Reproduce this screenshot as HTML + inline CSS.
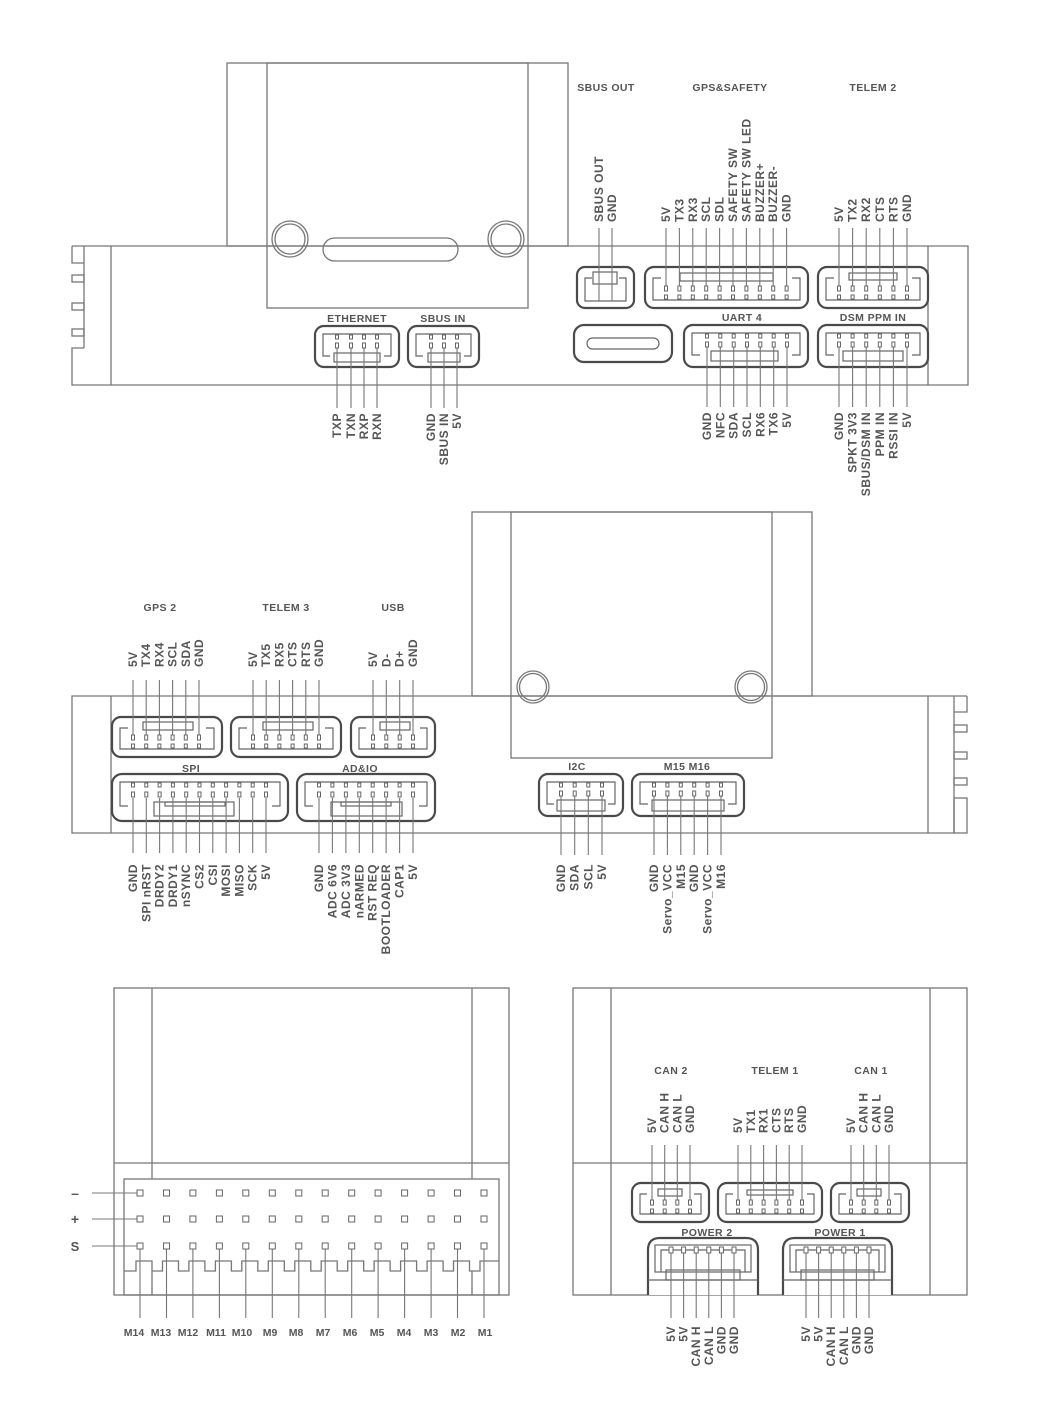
<!DOCTYPE html>
<html><head><meta charset="utf-8"><style>
html,body{margin:0;padding:0;background:#fff;}
svg{display:block;}
text{font-family:"Liberation Sans",sans-serif;font-weight:bold;fill:#555;}
.h{font-size:10.5px;letter-spacing:0.4px;text-anchor:middle;}
.u{font-size:12px;letter-spacing:0.5px;}
.b{fill:none;stroke:#777;stroke-width:1.3;}
.c{fill:#fff;stroke:#4a4a4a;stroke-width:2.2;}
.i{fill:none;stroke:#666;stroke-width:1.2;}
.l{stroke:#777;stroke-width:1.1;}
.p{fill:#fff;stroke:#666;stroke-width:1;}
</style></head><body>
<svg width="1039" height="1407" viewBox="0 0 1039 1407" xmlns="http://www.w3.org/2000/svg">

<!-- ================= PANEL 1 ================= -->
<path class="b" d="M84 246 H968 V385 H72 V348 H84 M84 246 V348 M72 246 V263 H84 M72 246 H84"/>
<rect class="b" x="72" y="275" width="12" height="7"/>
<rect class="b" x="72" y="303" width="12" height="7"/>
<rect class="b" x="72" y="329" width="12" height="7"/>
<line class="b" x1="111" y1="246" x2="111" y2="385"/>
<line class="b" x1="928" y1="246" x2="928" y2="385"/>
<rect class="b" x="227" y="63" width="341" height="183" fill="#fff"/>
<rect class="b" x="267" y="63" width="261" height="245" fill="#fff"/>
<circle class="b" cx="290" cy="239" r="18"/><circle class="b" cx="290" cy="239" r="15"/>
<circle class="b" cx="506" cy="239" r="18"/><circle class="b" cx="506" cy="239" r="15"/>
<rect class="b" x="323" y="238" width="135" height="23" rx="11.5"/>

<text class="h" x="606" y="91">SBUS OUT</text>
<text class="h" x="730" y="91">GPS&amp;SAFETY</text>
<text class="h" x="873" y="91">TELEM 2</text>
<text class="h" x="357" y="322">ETHERNET</text>
<text class="h" x="443" y="322">SBUS IN</text>
<text class="h" x="742" y="321">UART 4</text>
<text class="h" x="873" y="321">DSM PPM IN</text>

<!-- USB-C -->
<rect class="c" x="574" y="325" width="98" height="37" rx="10"/>
<rect class="i" x="587" y="338" width="72" height="11" rx="5.5" stroke-width="2.5"/>
<line x1="600" y1="343.5" x2="646" y2="343.5" stroke="#fff" stroke-width="3"/>

<!-- SBUS OUT connector (top) -->
<rect class="c" x="577" y="267" width="57" height="41" rx="8"/>
<polyline class="i" points="592,278 585,278 585,301 626,301 626,278 619,278"/>
<rect class="i" x="593" y="272" width="24" height="12"/>
<line class="l" x1="599" y1="228" x2="599" y2="301"/><line class="l" x1="612" y1="228" x2="612" y2="301"/>

<!-- GPS&SAFETY (top) -->
<rect class="c" x="645" y="267" width="163" height="41" rx="9"/>
<polyline class="i" points="661,278 653,278 653,300 800,300 800,278 792,278"/>
<rect class="i" x="680" y="273" width="93" height="8"/>
<g class="l">
<line x1="666" y1="228" x2="666" y2="288"/><line x1="679.4" y1="228" x2="679.4" y2="288"/><line x1="692.8" y1="228" x2="692.8" y2="288"/><line x1="706.2" y1="228" x2="706.2" y2="288"/><line x1="719.6" y1="228" x2="719.6" y2="288"/><line x1="733" y1="228" x2="733" y2="288"/><line x1="746.4" y1="228" x2="746.4" y2="288"/><line x1="759.8" y1="228" x2="759.8" y2="288"/><line x1="773.2" y1="228" x2="773.2" y2="288"/><line x1="786.6" y1="228" x2="786.6" y2="288"/>
</g>
<g class="p">
<rect x="664.5" y="286" width="3" height="5"/><rect x="677.9" y="286" width="3" height="5"/><rect x="691.3" y="286" width="3" height="5"/><rect x="704.7" y="286" width="3" height="5"/><rect x="718.1" y="286" width="3" height="5"/><rect x="731.5" y="286" width="3" height="5"/><rect x="744.9" y="286" width="3" height="5"/><rect x="758.3" y="286" width="3" height="5"/><rect x="771.7" y="286" width="3" height="5"/><rect x="785.1" y="286" width="3" height="5"/>
<rect x="664.5" y="295" width="3" height="4"/><rect x="677.9" y="295" width="3" height="4"/><rect x="691.3" y="295" width="3" height="4"/><rect x="704.7" y="295" width="3" height="4"/><rect x="718.1" y="295" width="3" height="4"/><rect x="731.5" y="295" width="3" height="4"/><rect x="744.9" y="295" width="3" height="4"/><rect x="758.3" y="295" width="3" height="4"/><rect x="771.7" y="295" width="3" height="4"/><rect x="785.1" y="295" width="3" height="4"/>
</g>

<!-- TELEM 2 (top) -->
<rect class="c" x="818" y="267" width="110" height="41" rx="9"/>
<polyline class="i" points="834,278 826,278 826,300 920,300 920,278 912,278"/>
<rect class="i" x="849" y="273" width="48" height="7"/>
<g class="l">
<line x1="839" y1="228" x2="839" y2="288"/><line x1="852.6" y1="228" x2="852.6" y2="288"/><line x1="866.2" y1="228" x2="866.2" y2="288"/><line x1="879.8" y1="228" x2="879.8" y2="288"/><line x1="893.4" y1="228" x2="893.4" y2="288"/><line x1="907" y1="228" x2="907" y2="288"/>
</g>
<g class="p">
<rect x="837.5" y="286" width="3" height="5"/><rect x="851.1" y="286" width="3" height="5"/><rect x="864.7" y="286" width="3" height="5"/><rect x="878.3" y="286" width="3" height="5"/><rect x="891.9" y="286" width="3" height="5"/><rect x="905.5" y="286" width="3" height="5"/>
<rect x="837.5" y="295" width="3" height="4"/><rect x="851.1" y="295" width="3" height="4"/><rect x="864.7" y="295" width="3" height="4"/><rect x="878.3" y="295" width="3" height="4"/><rect x="891.9" y="295" width="3" height="4"/><rect x="905.5" y="295" width="3" height="4"/>
</g>

<!-- ETHERNET (bottom) -->
<rect class="c" x="315" y="326" width="84" height="41" rx="9"/>
<polyline class="i" points="330,356 323,356 323,334 391,334 391,356 384,356"/>
<rect class="i" x="334" y="353" width="46" height="9"/>
<g class="l"><line x1="337" y1="348" x2="337" y2="408"/><line x1="351" y1="348" x2="351" y2="408"/><line x1="364" y1="348" x2="364" y2="408"/><line x1="377" y1="348" x2="377" y2="408"/></g>
<g class="p"><rect x="335.5" y="335" width="3" height="4"/><rect x="349.5" y="335" width="3" height="4"/><rect x="362.5" y="335" width="3" height="4"/><rect x="375.5" y="335" width="3" height="4"/>
<rect x="335.5" y="343" width="3" height="5"/><rect x="349.5" y="343" width="3" height="5"/><rect x="362.5" y="343" width="3" height="5"/><rect x="375.5" y="343" width="3" height="5"/></g>

<!-- SBUS IN (bottom) -->
<rect class="c" x="408" y="326" width="71" height="41" rx="9"/>
<polyline class="i" points="423,356 416,356 416,334 471,334 471,356 464,356"/>
<rect class="i" x="428" y="353" width="32" height="9"/>
<g class="l"><line x1="431" y1="348" x2="431" y2="408"/><line x1="444" y1="348" x2="444" y2="408"/><line x1="457" y1="348" x2="457" y2="408"/></g>
<g class="p"><rect x="429.5" y="335" width="3" height="4"/><rect x="442.5" y="335" width="3" height="4"/><rect x="455.5" y="335" width="3" height="4"/>
<rect x="429.5" y="343" width="3" height="5"/><rect x="442.5" y="343" width="3" height="5"/><rect x="455.5" y="343" width="3" height="5"/></g>

<!-- UART 4 (bottom) -->
<rect class="c" x="684" y="325" width="124" height="42" rx="9"/>
<polyline class="i" points="700,355 692,355 692,333 800,333 800,355 792,355"/>
<rect class="i" x="711" y="351" width="67" height="10"/>
<g class="l"><line x1="707" y1="347" x2="707" y2="407"/><line x1="720.3" y1="347" x2="720.3" y2="407"/><line x1="733.7" y1="347" x2="733.7" y2="407"/><line x1="747" y1="347" x2="747" y2="407"/><line x1="760.3" y1="347" x2="760.3" y2="407"/><line x1="773.7" y1="347" x2="773.7" y2="407"/><line x1="787" y1="347" x2="787" y2="407"/></g>
<g class="p"><rect x="705.5" y="334" width="3" height="4"/><rect x="718.8" y="334" width="3" height="4"/><rect x="732.2" y="334" width="3" height="4"/><rect x="745.5" y="334" width="3" height="4"/><rect x="758.8" y="334" width="3" height="4"/><rect x="772.2" y="334" width="3" height="4"/><rect x="785.5" y="334" width="3" height="4"/>
<rect x="705.5" y="342" width="3" height="5"/><rect x="718.8" y="342" width="3" height="5"/><rect x="732.2" y="342" width="3" height="5"/><rect x="745.5" y="342" width="3" height="5"/><rect x="758.8" y="342" width="3" height="5"/><rect x="772.2" y="342" width="3" height="5"/><rect x="785.5" y="342" width="3" height="5"/></g>

<!-- DSM PPM IN (bottom) -->
<rect class="c" x="818" y="325" width="110" height="42" rx="9"/>
<polyline class="i" points="834,355 826,355 826,333 920,333 920,355 912,355"/>
<rect class="i" x="843" y="351" width="60" height="10"/>
<g class="l"><line x1="839" y1="347" x2="839" y2="407"/><line x1="852.6" y1="347" x2="852.6" y2="407"/><line x1="866.2" y1="347" x2="866.2" y2="407"/><line x1="879.8" y1="347" x2="879.8" y2="407"/><line x1="893.4" y1="347" x2="893.4" y2="407"/><line x1="907" y1="347" x2="907" y2="407"/></g>
<g class="p"><rect x="837.5" y="334" width="3" height="4"/><rect x="851.1" y="334" width="3" height="4"/><rect x="864.7" y="334" width="3" height="4"/><rect x="878.3" y="334" width="3" height="4"/><rect x="891.9" y="334" width="3" height="4"/><rect x="905.5" y="334" width="3" height="4"/>
<rect x="837.5" y="342" width="3" height="5"/><rect x="851.1" y="342" width="3" height="5"/><rect x="864.7" y="342" width="3" height="5"/><rect x="878.3" y="342" width="3" height="5"/><rect x="891.9" y="342" width="3" height="5"/><rect x="905.5" y="342" width="3" height="5"/></g>

<!-- Panel 1 top labels (anchor start, read upward) -->
<g class="u">
<text transform="translate(603,222) rotate(-90)">SBUS OUT</text>
<text transform="translate(616,222) rotate(-90)">GND</text>
<text transform="translate(670,222) rotate(-90)">5V</text>
<text transform="translate(683.4,222) rotate(-90)">TX3</text>
<text transform="translate(696.8,222) rotate(-90)">RX3</text>
<text transform="translate(710.2,222) rotate(-90)">SCL</text>
<text transform="translate(723.6,222) rotate(-90)">SDL</text>
<text transform="translate(737,222) rotate(-90)">SAFETY  SW</text>
<text transform="translate(750.4,222) rotate(-90)">SAFETY SW LED</text>
<text transform="translate(763.8,222) rotate(-90)">BUZZER+</text>
<text transform="translate(777.2,222) rotate(-90)">BUZZER-</text>
<text transform="translate(790.6,222) rotate(-90)">GND</text>
<text transform="translate(843,222) rotate(-90)">5V</text>
<text transform="translate(856.6,222) rotate(-90)">TX2</text>
<text transform="translate(870.2,222) rotate(-90)">RX2</text>
<text transform="translate(883.8,222) rotate(-90)">CTS</text>
<text transform="translate(897.4,222) rotate(-90)">RTS</text>
<text transform="translate(911,222) rotate(-90)">GND</text>
</g>
<!-- Panel 1 bottom labels -->
<g class="u" text-anchor="end">
<text transform="translate(341,413) rotate(-90)">TXP</text>
<text transform="translate(355,413) rotate(-90)">TXN</text>
<text transform="translate(368,413) rotate(-90)">RXP</text>
<text transform="translate(381,413) rotate(-90)">RXN</text>
<text transform="translate(435,413) rotate(-90)">GND</text>
<text transform="translate(448,413) rotate(-90)">SBUS IN</text>
<text transform="translate(461,413) rotate(-90)">5V</text>
<text transform="translate(711,412) rotate(-90)">GND</text>
<text transform="translate(724.3,412) rotate(-90)">NFC</text>
<text transform="translate(737.7,412) rotate(-90)">SDA</text>
<text transform="translate(751,412) rotate(-90)">SCL</text>
<text transform="translate(764.3,412) rotate(-90)">RX6</text>
<text transform="translate(777.7,412) rotate(-90)">TX6</text>
<text transform="translate(791,412) rotate(-90)">5V</text>
<text transform="translate(843,412) rotate(-90)">GND</text>
<text transform="translate(856.6,412) rotate(-90)">SPKT 3V3</text>
<text transform="translate(870.2,412) rotate(-90)">SBUS/DSM IN</text>
<text transform="translate(883.8,412) rotate(-90)">PPM IN</text>
<text transform="translate(897.4,412) rotate(-90)">RSSI IN</text>
<text transform="translate(911,412) rotate(-90)">5V</text>
</g>

<!-- ================= PANEL 2 ================= -->
<path class="b" d="M954 696 H72 V833 H954 M954 696 V833 M967 696 V712 H954 M967 696 H954"/>
<rect class="b" x="954" y="725" width="13" height="7"/>
<rect class="b" x="954" y="752" width="13" height="7"/>
<rect class="b" x="954" y="778" width="13" height="7"/>
<rect class="b" x="954" y="798" width="13" height="35"/>
<line class="b" x1="111" y1="696" x2="111" y2="833"/>
<line class="b" x1="928" y1="696" x2="928" y2="833"/>
<rect class="b" x="472" y="512" width="340" height="184" fill="#fff"/>
<rect class="b" x="511" y="512" width="261" height="246" fill="#fff"/>
<circle class="b" cx="533" cy="687" r="16"/><circle class="b" cx="533" cy="687" r="13.5"/>
<circle class="b" cx="751" cy="687" r="16"/><circle class="b" cx="751" cy="687" r="13.5"/>

<text class="h" x="160" y="611">GPS 2</text>
<text class="h" x="286" y="611">TELEM 3</text>
<text class="h" x="393" y="611">USB</text>
<text class="h" x="191" y="772">SPI</text>
<text class="h" x="360" y="772">AD&amp;IO</text>
<text class="h" x="577" y="770">I2C</text>
<text class="h" x="687" y="770">M15 M16</text>

<!-- GPS2 (top) -->
<rect class="c" x="112" y="717" width="110" height="40" rx="9"/>
<polyline class="i" points="128,728 120,728 120,749 214,749 214,728 206,728"/>
<rect class="i" x="143" y="722" width="50" height="8"/>
<g class="l"><line x1="133" y1="680" x2="133" y2="737"/><line x1="146.2" y1="680" x2="146.2" y2="737"/><line x1="159.4" y1="680" x2="159.4" y2="737"/><line x1="172.6" y1="680" x2="172.6" y2="737"/><line x1="185.8" y1="680" x2="185.8" y2="737"/><line x1="199" y1="680" x2="199" y2="737"/></g>
<g class="p"><rect x="131.5" y="735" width="3" height="5"/><rect x="144.7" y="735" width="3" height="5"/><rect x="157.9" y="735" width="3" height="5"/><rect x="171.1" y="735" width="3" height="5"/><rect x="184.3" y="735" width="3" height="5"/><rect x="197.5" y="735" width="3" height="5"/>
<rect x="131.5" y="744" width="3" height="4"/><rect x="144.7" y="744" width="3" height="4"/><rect x="157.9" y="744" width="3" height="4"/><rect x="171.1" y="744" width="3" height="4"/><rect x="184.3" y="744" width="3" height="4"/><rect x="197.5" y="744" width="3" height="4"/></g>

<!-- TELEM3 (top) -->
<rect class="c" x="231" y="717" width="110" height="40" rx="9"/>
<polyline class="i" points="247,728 239,728 239,749 333,749 333,728 325,728"/>
<rect class="i" x="263" y="722" width="50" height="8"/>
<g class="l"><line x1="253" y1="680" x2="253" y2="737"/><line x1="266.2" y1="680" x2="266.2" y2="737"/><line x1="279.4" y1="680" x2="279.4" y2="737"/><line x1="292.6" y1="680" x2="292.6" y2="737"/><line x1="305.8" y1="680" x2="305.8" y2="737"/><line x1="319" y1="680" x2="319" y2="737"/></g>
<g class="p"><rect x="251.5" y="735" width="3" height="5"/><rect x="264.7" y="735" width="3" height="5"/><rect x="277.9" y="735" width="3" height="5"/><rect x="291.1" y="735" width="3" height="5"/><rect x="304.3" y="735" width="3" height="5"/><rect x="317.5" y="735" width="3" height="5"/>
<rect x="251.5" y="744" width="3" height="4"/><rect x="264.7" y="744" width="3" height="4"/><rect x="277.9" y="744" width="3" height="4"/><rect x="291.1" y="744" width="3" height="4"/><rect x="304.3" y="744" width="3" height="4"/><rect x="317.5" y="744" width="3" height="4"/></g>

<!-- USB (top) -->
<rect class="c" x="351" y="717" width="84" height="40" rx="9"/>
<polyline class="i" points="366,728 359,728 359,749 427,749 427,728 420,728"/>
<rect class="i" x="380" y="722" width="30" height="8"/>
<g class="l"><line x1="373" y1="680" x2="373" y2="737"/><line x1="386.3" y1="680" x2="386.3" y2="737"/><line x1="399.7" y1="680" x2="399.7" y2="737"/><line x1="413" y1="680" x2="413" y2="737"/></g>
<g class="p"><rect x="371.5" y="735" width="3" height="5"/><rect x="384.8" y="735" width="3" height="5"/><rect x="398.2" y="735" width="3" height="5"/><rect x="411.5" y="735" width="3" height="5"/>
<rect x="371.5" y="744" width="3" height="4"/><rect x="384.8" y="744" width="3" height="4"/><rect x="398.2" y="744" width="3" height="4"/><rect x="411.5" y="744" width="3" height="4"/></g>

<!-- SPI (bottom) -->
<rect class="c" x="112" y="774" width="176" height="47" rx="10"/>
<polyline class="i" points="128,806 120,806 120,782 280,782 280,806 272,806"/>
<rect class="i" x="154" y="802" width="80" height="14"/>
<rect class="i" x="165" y="802" width="60" height="4"/>
<g class="l"><line x1="133" y1="798" x2="133" y2="853"/><line x1="146.3" y1="798" x2="146.3" y2="853"/><line x1="159.6" y1="798" x2="159.6" y2="853"/><line x1="172.9" y1="798" x2="172.9" y2="853"/><line x1="186.2" y1="798" x2="186.2" y2="853"/><line x1="199.5" y1="798" x2="199.5" y2="853"/><line x1="212.8" y1="798" x2="212.8" y2="853"/><line x1="226.1" y1="798" x2="226.1" y2="853"/><line x1="239.4" y1="798" x2="239.4" y2="853"/><line x1="252.7" y1="798" x2="252.7" y2="853"/><line x1="266" y1="798" x2="266" y2="853"/></g>
<g class="p"><rect x="131.5" y="783" width="3" height="4"/><rect x="144.8" y="783" width="3" height="4"/><rect x="158.1" y="783" width="3" height="4"/><rect x="171.4" y="783" width="3" height="4"/><rect x="184.7" y="783" width="3" height="4"/><rect x="198" y="783" width="3" height="4"/><rect x="211.3" y="783" width="3" height="4"/><rect x="224.6" y="783" width="3" height="4"/><rect x="237.9" y="783" width="3" height="4"/><rect x="251.2" y="783" width="3" height="4"/><rect x="264.5" y="783" width="3" height="4"/>
<rect x="131.5" y="792" width="3" height="5"/><rect x="144.8" y="792" width="3" height="5"/><rect x="158.1" y="792" width="3" height="5"/><rect x="171.4" y="792" width="3" height="5"/><rect x="184.7" y="792" width="3" height="5"/><rect x="198" y="792" width="3" height="5"/><rect x="211.3" y="792" width="3" height="5"/><rect x="224.6" y="792" width="3" height="5"/><rect x="237.9" y="792" width="3" height="5"/><rect x="251.2" y="792" width="3" height="5"/><rect x="264.5" y="792" width="3" height="5"/></g>

<!-- AD&IO (bottom) -->
<rect class="c" x="297" y="774" width="138" height="47" rx="10"/>
<polyline class="i" points="313,806 305,806 305,782 427,782 427,806 419,806"/>
<rect class="i" x="331" y="802" width="71" height="14"/>
<rect class="i" x="341" y="802" width="50" height="4"/>
<g class="l"><line x1="319" y1="798" x2="319" y2="853"/><line x1="332.4" y1="798" x2="332.4" y2="853"/><line x1="345.9" y1="798" x2="345.9" y2="853"/><line x1="359.3" y1="798" x2="359.3" y2="853"/><line x1="372.7" y1="798" x2="372.7" y2="853"/><line x1="386.1" y1="798" x2="386.1" y2="853"/><line x1="399.6" y1="798" x2="399.6" y2="853"/><line x1="413" y1="798" x2="413" y2="853"/></g>
<g class="p"><rect x="317.5" y="783" width="3" height="4"/><rect x="330.9" y="783" width="3" height="4"/><rect x="344.4" y="783" width="3" height="4"/><rect x="357.8" y="783" width="3" height="4"/><rect x="371.2" y="783" width="3" height="4"/><rect x="384.6" y="783" width="3" height="4"/><rect x="398.1" y="783" width="3" height="4"/><rect x="411.5" y="783" width="3" height="4"/>
<rect x="317.5" y="792" width="3" height="5"/><rect x="330.9" y="792" width="3" height="5"/><rect x="344.4" y="792" width="3" height="5"/><rect x="357.8" y="792" width="3" height="5"/><rect x="371.2" y="792" width="3" height="5"/><rect x="384.6" y="792" width="3" height="5"/><rect x="398.1" y="792" width="3" height="5"/><rect x="411.5" y="792" width="3" height="5"/></g>

<!-- I2C (bottom) -->
<rect class="c" x="539" y="774" width="84" height="42" rx="9"/>
<polyline class="i" points="554,804 547,804 547,782 615,782 615,804 608,804"/>
<rect class="i" x="557" y="800" width="48" height="11"/>
<g class="l"><line x1="561" y1="796" x2="561" y2="855"/><line x1="574.7" y1="796" x2="574.7" y2="855"/><line x1="588.3" y1="796" x2="588.3" y2="855"/><line x1="602" y1="796" x2="602" y2="855"/></g>
<g class="p"><rect x="559.5" y="783" width="3" height="4"/><rect x="573.2" y="783" width="3" height="4"/><rect x="586.8" y="783" width="3" height="4"/><rect x="600.5" y="783" width="3" height="4"/>
<rect x="559.5" y="791" width="3" height="5"/><rect x="573.2" y="791" width="3" height="5"/><rect x="586.8" y="791" width="3" height="5"/><rect x="600.5" y="791" width="3" height="5"/></g>

<!-- M15 M16 (bottom) -->
<rect class="c" x="632" y="774" width="112" height="42" rx="9"/>
<polyline class="i" points="648,804 640,804 640,782 736,782 736,804 728,804"/>
<rect class="i" x="652" y="800" width="72" height="11"/>
<g class="l"><line x1="654" y1="796" x2="654" y2="855"/><line x1="667.4" y1="796" x2="667.4" y2="855"/><line x1="680.8" y1="796" x2="680.8" y2="855"/><line x1="694.2" y1="796" x2="694.2" y2="855"/><line x1="707.6" y1="796" x2="707.6" y2="855"/><line x1="721" y1="796" x2="721" y2="855"/></g>
<g class="p"><rect x="652.5" y="783" width="3" height="4"/><rect x="665.9" y="783" width="3" height="4"/><rect x="679.3" y="783" width="3" height="4"/><rect x="692.7" y="783" width="3" height="4"/><rect x="706.1" y="783" width="3" height="4"/><rect x="719.5" y="783" width="3" height="4"/>
<rect x="652.5" y="791" width="3" height="5"/><rect x="665.9" y="791" width="3" height="5"/><rect x="679.3" y="791" width="3" height="5"/><rect x="692.7" y="791" width="3" height="5"/><rect x="706.1" y="791" width="3" height="5"/><rect x="719.5" y="791" width="3" height="5"/></g>

<!-- Panel 2 top labels -->
<g class="u">
<text transform="translate(137,667) rotate(-90)">5V</text>
<text transform="translate(150.2,667) rotate(-90)">TX4</text>
<text transform="translate(163.4,667) rotate(-90)">RX4</text>
<text transform="translate(176.6,667) rotate(-90)">SCL</text>
<text transform="translate(189.8,667) rotate(-90)">SDA</text>
<text transform="translate(203,667) rotate(-90)">GND</text>
<text transform="translate(257,667) rotate(-90)">5V</text>
<text transform="translate(270.2,667) rotate(-90)">TX5</text>
<text transform="translate(283.4,667) rotate(-90)">RX5</text>
<text transform="translate(296.6,667) rotate(-90)">CTS</text>
<text transform="translate(309.8,667) rotate(-90)">RTS</text>
<text transform="translate(323,667) rotate(-90)">GND</text>
<text transform="translate(377,667) rotate(-90)">5V</text>
<text transform="translate(390.3,667) rotate(-90)">D-</text>
<text transform="translate(403.7,667) rotate(-90)">D+</text>
<text transform="translate(417,667) rotate(-90)">GND</text>
</g>
<!-- Panel 2 bottom labels -->
<g class="u" text-anchor="end">
<text transform="translate(137,864) rotate(-90)">GND</text>
<text transform="translate(150.3,864) rotate(-90)">SPI nRST</text>
<text transform="translate(163.6,864) rotate(-90)">DRDY2</text>
<text transform="translate(176.9,864) rotate(-90)">DRDY1</text>
<text transform="translate(190.2,864) rotate(-90)">nSYNC</text>
<text transform="translate(203.5,864) rotate(-90)">CS2</text>
<text transform="translate(216.8,864) rotate(-90)">CSI</text>
<text transform="translate(230.1,864) rotate(-90)">MOSI</text>
<text transform="translate(243.4,864) rotate(-90)">MISO</text>
<text transform="translate(256.7,864) rotate(-90)">SCK</text>
<text transform="translate(270,864) rotate(-90)">5V</text>
<text transform="translate(323,864) rotate(-90)">GND</text>
<text transform="translate(336.4,864) rotate(-90)">ADC 6V6</text>
<text transform="translate(349.9,864) rotate(-90)">ADC 3V3</text>
<text transform="translate(363.3,864) rotate(-90)">nARMED</text>
<text transform="translate(376.7,864) rotate(-90)">RST REQ</text>
<text transform="translate(390.1,864) rotate(-90)">BOOTLOADER</text>
<text transform="translate(403.6,864) rotate(-90)">CAP1</text>
<text transform="translate(417,864) rotate(-90)">5V</text>
<text transform="translate(565,864) rotate(-90)">GND</text>
<text transform="translate(578.7,864) rotate(-90)">SDA</text>
<text transform="translate(592.3,864) rotate(-90)">SCL</text>
<text transform="translate(606,864) rotate(-90)">5V</text>
<text transform="translate(658,864) rotate(-90)">GND</text>
<text transform="translate(671.4,864) rotate(-90)">Servo_VCC</text>
<text transform="translate(684.8,864) rotate(-90)">M15</text>
<text transform="translate(698.2,864) rotate(-90)">GND</text>
<text transform="translate(711.6,864) rotate(-90)">Servo_VCC</text>
<text transform="translate(725,864) rotate(-90)">M16</text>
</g>

<!-- ================= PANEL 3 ================= -->
<rect class="b" x="114" y="988" width="395" height="307"/>
<line class="b" x1="114" y1="1163" x2="509" y2="1163"/>
<line class="b" x1="152" y1="988" x2="152" y2="1179"/>
<line class="b" x1="472" y1="988" x2="472" y2="1179"/>
<line class="b" x1="152" y1="1271" x2="152" y2="1295"/>
<line class="b" x1="472" y1="1271" x2="472" y2="1295"/>
<rect class="b" x="124" y="1179" width="375" height="116" stroke-width="1.6"/>
<path class="b" d="M124 1271 H136 V1261 H152 V1271 H162.5 V1261 H178.5 V1271 H188.9 V1261 H204.9 V1271 H215.4 V1261 H231.4 V1271 H241.8 V1261 H257.8 V1271 H268.3 V1261 H284.3 V1271 H294.8 V1261 H310.8 V1271 H321.2 V1261 H337.2 V1271 H347.7 V1261 H363.7 V1271 H374.1 V1261 H390.1 V1271 H400.6 V1261 H416.6 V1271 H427.1 V1261 H443.1 V1271 H453.5 V1261 H469.5 V1271 H480 V1261 H499"/>
<g class="l">
<line x1="92" y1="1193" x2="137" y2="1193"/><line x1="92" y1="1219" x2="137" y2="1219"/><line x1="92" y1="1246" x2="137" y2="1246"/>
<line x1="140" y1="1249" x2="140" y2="1318"/><line x1="166.5" y1="1249" x2="166.5" y2="1318"/><line x1="192.9" y1="1249" x2="192.9" y2="1318"/><line x1="219.4" y1="1249" x2="219.4" y2="1318"/><line x1="245.8" y1="1249" x2="245.8" y2="1318"/><line x1="272.3" y1="1249" x2="272.3" y2="1318"/><line x1="298.8" y1="1249" x2="298.8" y2="1318"/><line x1="325.2" y1="1249" x2="325.2" y2="1318"/><line x1="351.7" y1="1249" x2="351.7" y2="1318"/><line x1="378.1" y1="1249" x2="378.1" y2="1318"/><line x1="404.6" y1="1249" x2="404.6" y2="1318"/><line x1="431.1" y1="1249" x2="431.1" y2="1318"/><line x1="457.5" y1="1249" x2="457.5" y2="1318"/><line x1="484" y1="1249" x2="484" y2="1318"/>
</g>
<g class="p">
<rect x="137" y="1190" width="6" height="6"/><rect x="163.5" y="1190" width="6" height="6"/><rect x="189.9" y="1190" width="6" height="6"/><rect x="216.4" y="1190" width="6" height="6"/><rect x="242.8" y="1190" width="6" height="6"/><rect x="269.3" y="1190" width="6" height="6"/><rect x="295.8" y="1190" width="6" height="6"/><rect x="322.2" y="1190" width="6" height="6"/><rect x="348.7" y="1190" width="6" height="6"/><rect x="375.1" y="1190" width="6" height="6"/><rect x="401.6" y="1190" width="6" height="6"/><rect x="428.1" y="1190" width="6" height="6"/><rect x="454.5" y="1190" width="6" height="6"/><rect x="481" y="1190" width="6" height="6"/>
<rect x="137" y="1216" width="6" height="6"/><rect x="163.5" y="1216" width="6" height="6"/><rect x="189.9" y="1216" width="6" height="6"/><rect x="216.4" y="1216" width="6" height="6"/><rect x="242.8" y="1216" width="6" height="6"/><rect x="269.3" y="1216" width="6" height="6"/><rect x="295.8" y="1216" width="6" height="6"/><rect x="322.2" y="1216" width="6" height="6"/><rect x="348.7" y="1216" width="6" height="6"/><rect x="375.1" y="1216" width="6" height="6"/><rect x="401.6" y="1216" width="6" height="6"/><rect x="428.1" y="1216" width="6" height="6"/><rect x="454.5" y="1216" width="6" height="6"/><rect x="481" y="1216" width="6" height="6"/>
<rect x="137" y="1243" width="6" height="6"/><rect x="163.5" y="1243" width="6" height="6"/><rect x="189.9" y="1243" width="6" height="6"/><rect x="216.4" y="1243" width="6" height="6"/><rect x="242.8" y="1243" width="6" height="6"/><rect x="269.3" y="1243" width="6" height="6"/><rect x="295.8" y="1243" width="6" height="6"/><rect x="322.2" y="1243" width="6" height="6"/><rect x="348.7" y="1243" width="6" height="6"/><rect x="375.1" y="1243" width="6" height="6"/><rect x="401.6" y="1243" width="6" height="6"/><rect x="428.1" y="1243" width="6" height="6"/><rect x="454.5" y="1243" width="6" height="6"/><rect x="481" y="1243" width="6" height="6"/>
</g>
<text x="75" y="1198" style="font-size:14px;text-anchor:middle">–</text>
<text x="75" y="1224" style="font-size:14px;text-anchor:middle">+</text>
<text x="75" y="1251" style="font-size:13px;text-anchor:middle">S</text>
<g class="h" style="font-size:10.5px;letter-spacing:0">
<text x="134" y="1336">M14</text><text x="161" y="1336">M13</text><text x="188" y="1336">M12</text><text x="216" y="1336">M11</text><text x="242" y="1336">M10</text><text x="270" y="1336">M9</text><text x="296" y="1336">M8</text><text x="323" y="1336">M7</text><text x="350" y="1336">M6</text><text x="377" y="1336">M5</text><text x="404" y="1336">M4</text><text x="431" y="1336">M3</text><text x="458" y="1336">M2</text><text x="485" y="1336">M1</text>
</g>

<!-- ================= PANEL 4 ================= -->
<rect class="b" x="573" y="988" width="394" height="307"/>
<line class="b" x1="573" y1="1163" x2="967" y2="1163"/>
<line class="b" x1="611" y1="988" x2="611" y2="1295"/>
<line class="b" x1="930" y1="988" x2="930" y2="1295"/>

<text class="h" x="671" y="1074">CAN 2</text>
<text class="h" x="775" y="1074">TELEM 1</text>
<text class="h" x="871" y="1074">CAN 1</text>
<text class="h" x="707" y="1236">POWER 2</text>
<text class="h" x="840" y="1236">POWER 1</text>

<!-- CAN2 -->
<rect class="c" x="632" y="1183" width="77" height="39" rx="9"/>
<polyline class="i" points="647,1194 640,1194 640,1214 701,1214 701,1194 694,1194"/>
<rect class="i" x="658" y="1189" width="24" height="7"/>
<g class="l"><line x1="652" y1="1145" x2="652" y2="1202"/><line x1="664.7" y1="1145" x2="664.7" y2="1202"/><line x1="677.3" y1="1145" x2="677.3" y2="1202"/><line x1="690" y1="1145" x2="690" y2="1202"/></g>
<g class="p"><rect x="650.5" y="1200" width="3" height="5"/><rect x="663.2" y="1200" width="3" height="5"/><rect x="675.8" y="1200" width="3" height="5"/><rect x="688.5" y="1200" width="3" height="5"/>
<rect x="650.5" y="1209" width="3" height="4"/><rect x="663.2" y="1209" width="3" height="4"/><rect x="675.8" y="1209" width="3" height="4"/><rect x="688.5" y="1209" width="3" height="4"/></g>

<!-- TELEM1 -->
<rect class="c" x="718" y="1183" width="104" height="39" rx="9"/>
<polyline class="i" points="733,1194 726,1194 726,1214 814,1214 814,1194 807,1194"/>
<rect class="i" x="747" y="1190" width="46" height="5"/>
<g class="l"><line x1="738" y1="1145" x2="738" y2="1202"/><line x1="750.8" y1="1145" x2="750.8" y2="1202"/><line x1="763.6" y1="1145" x2="763.6" y2="1202"/><line x1="776.4" y1="1145" x2="776.4" y2="1202"/><line x1="789.2" y1="1145" x2="789.2" y2="1202"/><line x1="802" y1="1145" x2="802" y2="1202"/></g>
<g class="p"><rect x="736.5" y="1200" width="3" height="5"/><rect x="749.3" y="1200" width="3" height="5"/><rect x="762.1" y="1200" width="3" height="5"/><rect x="774.9" y="1200" width="3" height="5"/><rect x="787.7" y="1200" width="3" height="5"/><rect x="800.5" y="1200" width="3" height="5"/>
<rect x="736.5" y="1209" width="3" height="4"/><rect x="749.3" y="1209" width="3" height="4"/><rect x="762.1" y="1209" width="3" height="4"/><rect x="774.9" y="1209" width="3" height="4"/><rect x="787.7" y="1209" width="3" height="4"/><rect x="800.5" y="1209" width="3" height="4"/></g>

<!-- CAN1 -->
<rect class="c" x="831" y="1183" width="78" height="39" rx="9"/>
<polyline class="i" points="846,1194 839,1194 839,1214 901,1214 901,1194 894,1194"/>
<rect class="i" x="857" y="1189" width="24" height="7"/>
<g class="l"><line x1="851" y1="1145" x2="851" y2="1202"/><line x1="863.7" y1="1145" x2="863.7" y2="1202"/><line x1="876.3" y1="1145" x2="876.3" y2="1202"/><line x1="889" y1="1145" x2="889" y2="1202"/></g>
<g class="p"><rect x="849.5" y="1200" width="3" height="5"/><rect x="862.2" y="1200" width="3" height="5"/><rect x="874.8" y="1200" width="3" height="5"/><rect x="887.5" y="1200" width="3" height="5"/>
<rect x="849.5" y="1209" width="3" height="4"/><rect x="862.2" y="1209" width="3" height="4"/><rect x="874.8" y="1209" width="3" height="4"/><rect x="887.5" y="1209" width="3" height="4"/></g>

<!-- POWER 2 -->
<path class="c" d="M648 1295 V1250 Q648 1238 660 1238 H746 Q758 1238 758 1250 V1295"/>
<rect class="i" x="655" y="1245" width="96" height="27"/>
<polyline class="i" points="661,1272 661,1250 745,1250 745,1272"/>
<line class="i" x1="648" y1="1280" x2="758" y2="1280"/>
<rect class="i" x="666" y="1270" width="74" height="10"/>
<g class="l"><line x1="671" y1="1252" x2="671" y2="1318"/><line x1="683.6" y1="1252" x2="683.6" y2="1318"/><line x1="696.2" y1="1252" x2="696.2" y2="1318"/><line x1="708.8" y1="1252" x2="708.8" y2="1318"/><line x1="721.4" y1="1252" x2="721.4" y2="1318"/><line x1="734" y1="1252" x2="734" y2="1318"/></g>
<g class="p"><rect x="669" y="1247" width="4" height="6"/><rect x="681.6" y="1247" width="4" height="6"/><rect x="694.2" y="1247" width="4" height="6"/><rect x="706.8" y="1247" width="4" height="6"/><rect x="719.4" y="1247" width="4" height="6"/><rect x="732" y="1247" width="4" height="6"/></g>

<!-- POWER 1 -->
<path class="c" d="M783 1295 V1250 Q783 1238 795 1238 H880 Q892 1238 892 1250 V1295"/>
<rect class="i" x="790" y="1245" width="95" height="27"/>
<polyline class="i" points="796,1272 796,1250 879,1250 879,1272"/>
<line class="i" x1="783" y1="1280" x2="892" y2="1280"/>
<rect class="i" x="801" y="1270" width="73" height="10"/>
<g class="l"><line x1="806" y1="1252" x2="806" y2="1318"/><line x1="818.6" y1="1252" x2="818.6" y2="1318"/><line x1="831.2" y1="1252" x2="831.2" y2="1318"/><line x1="843.8" y1="1252" x2="843.8" y2="1318"/><line x1="856.4" y1="1252" x2="856.4" y2="1318"/><line x1="869" y1="1252" x2="869" y2="1318"/></g>
<g class="p"><rect x="804" y="1247" width="4" height="6"/><rect x="816.6" y="1247" width="4" height="6"/><rect x="829.2" y="1247" width="4" height="6"/><rect x="841.8" y="1247" width="4" height="6"/><rect x="854.4" y="1247" width="4" height="6"/><rect x="867" y="1247" width="4" height="6"/></g>

<!-- Panel 4 top labels -->
<g class="u">
<text transform="translate(656,1133) rotate(-90)">5V</text>
<text transform="translate(668.7,1133) rotate(-90)">CAN H</text>
<text transform="translate(681.3,1133) rotate(-90)">CAN L</text>
<text transform="translate(694,1133) rotate(-90)">GND</text>
<text transform="translate(742,1133) rotate(-90)">5V</text>
<text transform="translate(754.8,1133) rotate(-90)">TX1</text>
<text transform="translate(767.6,1133) rotate(-90)">RX1</text>
<text transform="translate(780.4,1133) rotate(-90)">CTS</text>
<text transform="translate(793.2,1133) rotate(-90)">RTS</text>
<text transform="translate(806,1133) rotate(-90)">GND</text>
<text transform="translate(855,1133) rotate(-90)">5V</text>
<text transform="translate(867.7,1133) rotate(-90)">CAN H</text>
<text transform="translate(880.3,1133) rotate(-90)">CAN L</text>
<text transform="translate(893,1133) rotate(-90)">GND</text>
</g>
<!-- Panel 4 bottom labels -->
<g class="u" text-anchor="end">
<text transform="translate(675,1326) rotate(-90)">5V</text>
<text transform="translate(687.6,1326) rotate(-90)">5V</text>
<text transform="translate(700.2,1326) rotate(-90)">CAN H</text>
<text transform="translate(712.8,1326) rotate(-90)">CAN L</text>
<text transform="translate(725.4,1326) rotate(-90)">GND</text>
<text transform="translate(738,1326) rotate(-90)">GND</text>
<text transform="translate(810,1326) rotate(-90)">5V</text>
<text transform="translate(822.6,1326) rotate(-90)">5V</text>
<text transform="translate(835.2,1326) rotate(-90)">CAN H</text>
<text transform="translate(847.8,1326) rotate(-90)">CAN L</text>
<text transform="translate(860.4,1326) rotate(-90)">GND</text>
<text transform="translate(873,1326) rotate(-90)">GND</text>
</g>
</svg>
</body></html>
